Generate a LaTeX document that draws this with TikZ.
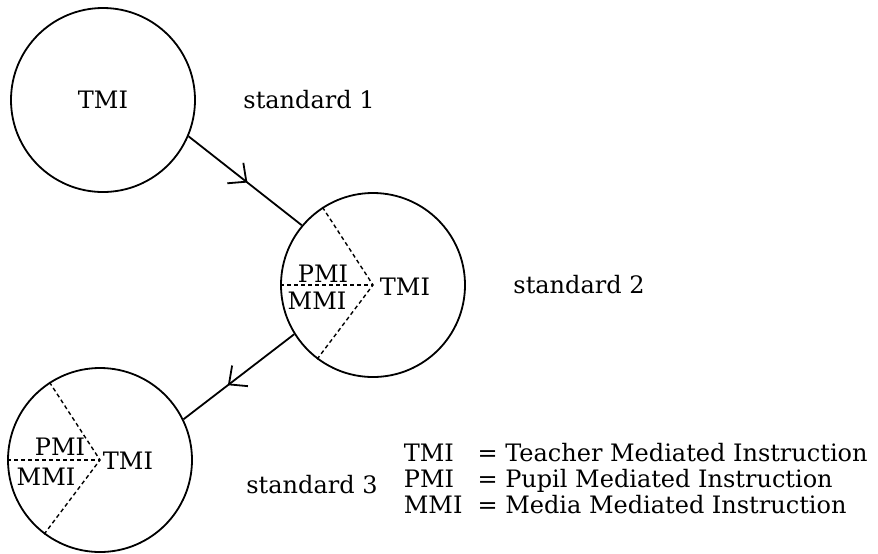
\documentclass[tikz,border=0pt]{standalone}
\usepackage{fontspec}
\setmainfont{DejaVu Serif}
\usetikzlibrary{positioning,arrows.meta,decorations.markings}
\tikzset{
	flow/.style={x=0.5pt,y=-0.5pt,line width=0.9pt,
		font=\fontsize{12}{12.5}\selectfont},
	level/.style={circle,draw,minimum size=92pt,inner sep=0pt},
	split/.style={dash pattern=on 2pt off 1.5pt,line width=0.7pt},
	tag/.style={inner sep=0pt},
	mid arrow/.style={postaction={decorate},decoration={markings,
		mark=at position #1 with {\arrow{Straight Barb[length=7pt,width=13pt,line width=0.9pt]}}}}
}

\begin{document}
\begin{tikzpicture}[flow]
	\useasboundingbox (0,0) rectangle (878,553);
	
	\node[level] (c1) at (103,100) {TMI};
	\node[level] (c2) at (373,285) {};
	\node[level] (c3) at (100,460) {};
	
	\node (s1) [right=20pt of c1] {standard 1};
	\node (s2) [right=20pt of c2] {standard 2};
	\node (s3) at (312,485) {standard 3};
	
	% sectors of the second circle
	\draw[split] (c2.180) -- (c2.center);
	\draw[split] (c2.123) -- (c2.center) -- (c2.233);
	\node[tag] (p2) at (323,274) {PMI};
	\node[tag] (m2) at (317,301) {MMI};
	\node[tag] (t2) at (405,287) {TMI};
	
	% sectors of the third circle
	\draw[split] (c3.180) -- (c3.center);
	\draw[split] (c3.123) -- (c3.center) -- (c3.233);
	\node[tag] (p3) at (60,447) {PMI};
	\node[tag] (m3) at (46,477) {MMI};
	\node[tag] (t3) at (128,461) {TMI};
	
	\path[mid arrow=0.52,draw] (c1.-23) -- (c2.140);
	\path[mid arrow=0.6,draw] (c2.212) -- (c3.26);
	
	\node[tag,anchor=west] (key) at (403,482) {\begin{tabular}{@{}l@{\hspace{7.5pt}}l@{}}
		TMI & = Teacher Mediated Instruction\\
		PMI & = Pupil Mediated Instruction\\
		MMI & = Media Mediated Instruction
	\end{tabular}};
\end{tikzpicture}
\end{document}
